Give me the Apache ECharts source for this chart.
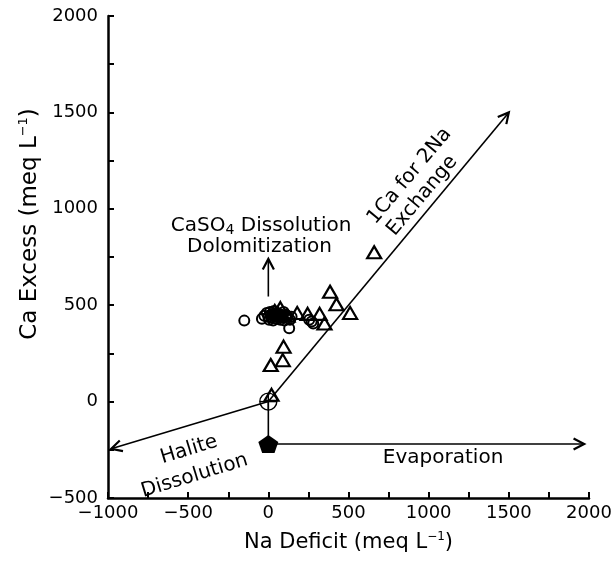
<!DOCTYPE html>
<html>
<head>
<meta charset="utf-8">
<script src="https://cdn.jsdelivr.net/npm/echarts@6/dist/echarts.min.js"></script>
<style>
  html, body { margin: 0; padding: 0; background: #fff; }
  #chart { width: 615px; height: 561px; }
</style>
</head>
<body>
<div id="chart"></div>
<script>
// Na deficit vs Ca excess (meq/L) for the sampled waters
const circleX = [-150, -40, -25, -10, 0, 5, 10, 15, 20, 25, 30, 35, 40, 50, 55, 60, 70, 75, 80, 90, 95, 100, 110, 120, 130, 135, 145, 255, 270, 280];
const circleY = [420, 430, 445, 460, 440, 425, 465, 450, 435, 455, 420, 470, 445, 430, 460, 440, 455, 425, 445, 435, 465, 420, 450, 440, 380, 425, 440, 425, 415, 405];
const triangleX = [20, 15, 90, 95, 75, 40, 60, 120, 180, 245, 320, 350, 385, 425, 510, 660];
const triangleY = [35, 190, 215, 285, 485, 470, 455, 445, 460, 455, 455, 405, 570, 505, 460, 775];

// Reference composition and end member
const originPoint = [0, 0];
const endMember = [0, -220];

// Process vectors: x1, y1, x2, y2, arrowhead (1 = yes)
const vectorX1 = [0, 0, 0, 0, 0];
const vectorY1 = [0, 0, 0, -220, 545];
const vectorX2 = [1500, -980, 0, 1970, 0];
const vectorY2 = [1500, -245, -220, -220, 740];
const vectorHead = [1, 1, 0, 1, 1];

// Process annotations
const noteText = ['{a|CaSO}{s|4}{a| Dissolution}', 'Dolomitization', '1Ca for 2Na', 'Exchange', 'Halite', 'Dissolution', 'Evaporation'];
const noteX = [-45, -55, 880, 960, -495, -460, 1090];
const noteY = [912, 804, 1170, 1068, -250, -385, -290];
const noteAngle = [0, 0, 50, 50, 17, 17, 0];

// Axis ranges: labelled ticks every 500, plain ticks every 250
const xMin = -1000, xMax = 2000, yMin = -500, yMax = 2000, labelStep = 500, tickStep = 250;

const FONT = '"DejaVu Sans", "Liberation Sans", Arial, sans-serif';
const minus = v => (v < 0 ? '\u2212' + Math.abs(v) : String(v));

const vectors = vectorX1.map((x, i) => [x, vectorY1[i], vectorX2[i], vectorY2[i], vectorHead[i]]);
const notes = noteX.map((x, i) => [x, noteY[i], i]);

const chart = echarts.init(document.getElementById('chart'), null, { renderer: 'canvas' });

const tickStyle = { show: true, inside: true, length: 6, lineStyle: { color: '#000', width: 2 } };
const labelStyle = { color: '#000', fontFamily: FONT, fontSize: 18, formatter: minus, showMinLabel: true, showMaxLabel: true, hideOverlap: false };

// tick-only companion axis drawn along the main one
function tickAxis(min, max, position) {
  return {
    type: 'value', min: min, max: max, interval: tickStep, position: position,
    axisLine: { show: false, onZero: false }, axisTick: tickStyle, axisLabel: { show: false },
    splitLine: { show: false }, minorTick: { show: false }
  };
}

chart.setOption({
  animation: false,
  backgroundColor: '#fff',
  grid: { left: 108, right: 26, top: 16, bottom: 63 },
  xAxis: [{
    type: 'value', min: xMin, max: xMax, interval: labelStep, position: 'bottom',
    axisLine: { show: true, onZero: false, lineStyle: { color: '#000', width: 2.5 } },
    axisTick: tickStyle, splitLine: { show: false },
    axisLabel: Object.assign({}, labelStyle, { margin: 6 }),
    name: '{a|Na Deficit (meq L}{s|\u22121}{a|)}',
    nameLocation: 'middle', nameGap: 33,
    nameTextStyle: {
      rich: {
        a: { fontFamily: FONT, fontSize: 21, color: '#000', lineHeight: 24 },
        s: { fontFamily: FONT, fontSize: 12, color: '#000', lineHeight: 12, verticalAlign: 'top' }
      }
    }
  }, tickAxis(xMin, xMax, 'bottom')],
  yAxis: [{
    type: 'value', min: yMin, max: yMax, interval: labelStep, position: 'left',
    axisLine: { show: true, onZero: false, lineStyle: { color: '#000', width: 2.5 } },
    axisTick: tickStyle, splitLine: { show: false },
    axisLabel: Object.assign({}, labelStyle, { margin: 10 })
  }, tickAxis(yMin, yMax, 'left')],
  graphic: [{
    type: 'text', x: 30, y: 224, rotation: Math.PI / 2,
    style: {
      text: '{a|Ca Excess (meq L}{s|\u22121}{a|)}',
      align: 'center', verticalAlign: 'middle',
      rich: {
        a: { fontFamily: FONT, fontSize: 23, fill: '#000', lineHeight: 26 },
        s: { fontFamily: FONT, fontSize: 13, fill: '#000', lineHeight: 12, verticalAlign: 'top' }
      }
    }
  }],
  series: [
    {
      type: 'custom', name: 'vectors', coordinateSystem: 'cartesian2d', clip: false, silent: true,
      encode: { x: [0, 2], y: [1, 3] },
      data: vectors,
      renderItem: function (params, api) {
        const p1 = api.coord([api.value(0), api.value(1)]);
        const p2 = api.coord([api.value(2), api.value(3)]);
        const children = [{
          type: 'line',
          shape: { x1: p1[0], y1: p1[1], x2: p2[0], y2: p2[1] },
          style: { stroke: '#000', lineWidth: 1.6 }
        }];
        if (api.value(4)) {
          const ang = Math.atan2(p2[1] - p1[1], p2[0] - p1[0]);
          const len = 12, spread = Math.PI / 6.5;
          children.push({
            type: 'polyline',
            shape: {
              points: [
                [p2[0] - len * Math.cos(ang - spread), p2[1] - len * Math.sin(ang - spread)],
                [p2[0], p2[1]],
                [p2[0] - len * Math.cos(ang + spread), p2[1] - len * Math.sin(ang + spread)]
              ]
            },
            style: { stroke: '#000', lineWidth: 2.2, fill: null }
          });
        }
        return { type: 'group', children: children };
      },
      z: 3
    },
    {
      type: 'scatter', name: 'circles',
      data: circleX.map((x, i) => [x, circleY[i]]),
      symbol: 'circle', symbolSize: 10,
      itemStyle: { color: 'rgba(0,0,0,0)', borderColor: '#000', borderWidth: 2, opacity: 1 },
      z: 4
    },
    {
      type: 'scatter', name: 'triangles',
      data: triangleX.map((x, i) => [x, triangleY[i]]),
      symbol: 'triangle', symbolSize: [14, 12],
      itemStyle: { color: 'rgba(0,0,0,0)', borderColor: '#000', borderWidth: 2.2, opacity: 1 },
      z: 4
    },
    {
      type: 'custom', name: 'origin', coordinateSystem: 'cartesian2d', clip: false, silent: true,
      data: [originPoint],
      renderItem: function (params, api) {
        const c = api.coord([api.value(0), api.value(1)]);
        const r = 8.5;
        return {
          type: 'group',
          children: [
            { type: 'circle', shape: { cx: c[0], cy: c[1], r: r }, style: { stroke: '#000', fill: 'rgba(0,0,0,0)', lineWidth: 1.4 } },
            { type: 'line', shape: { x1: c[0] - r, y1: c[1], x2: c[0] + r, y2: c[1] }, style: { stroke: '#000', lineWidth: 1.4 } },
            { type: 'line', shape: { x1: c[0], y1: c[1] - r, x2: c[0], y2: c[1] + r }, style: { stroke: '#000', lineWidth: 1.4 } }
          ]
        };
      },
      z: 5
    },
    {
      type: 'scatter', name: 'end member',
      data: [endMember],
      symbol: 'path://M0,-10 L9.51,-3.09 L5.88,8.09 L-5.88,8.09 L-9.51,-3.09 Z',
      symbolSize: [20, 18],
      itemStyle: { color: '#000', opacity: 1 },
      z: 6
    },
    {
      type: 'custom', name: 'notes', coordinateSystem: 'cartesian2d', clip: false, silent: true,
      data: notes,
      renderItem: function (params, api) {
        const c = api.coord([api.value(0), api.value(1)]);
        const i = api.value(2);
        return {
          type: 'text',
          x: c[0], y: c[1],
          rotation: noteAngle[i] * Math.PI / 180,
          style: {
            text: noteText[i],
            fontFamily: FONT, fontSize: 20, fill: '#000',
            align: 'center', verticalAlign: 'middle',
            rich: {
              a: { fontFamily: FONT, fontSize: 20, fill: '#000', lineHeight: 24 },
              s: { fontFamily: FONT, fontSize: 14, fill: '#000', lineHeight: 10, verticalAlign: 'bottom' }
            }
          }
        };
      },
      z: 7
    }
  ]
});
</script>
</body>
</html>
